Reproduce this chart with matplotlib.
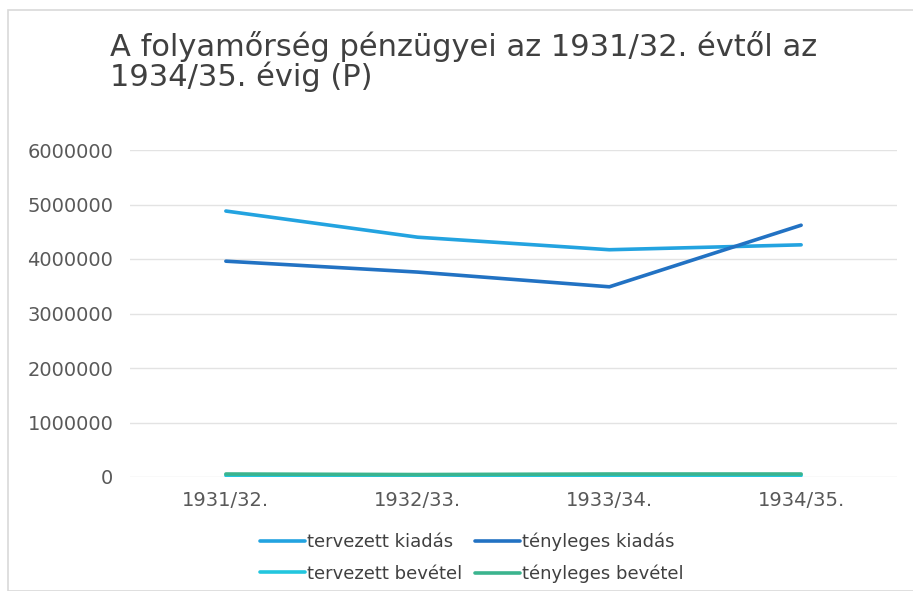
import matplotlib.pyplot as plt
import numpy as np
from matplotlib.patches import Rectangle

plt.rcParams["font.family"] = ["DejaVu Sans"]

years = ["1931/32.", "1932/33.", "1933/34.", "1934/35."]
tervezett_kiadas = [4880000, 4400000, 4170000, 4260000]
tenyleges_kiadas = [3960000, 3760000, 3490000, 4620000]
tervezett_bevetel = [30000, 25000, 30000, 30000]
tenyleges_bevetel = [55000, 45000, 55000, 55000]

series = [
    ("tervezett kiadás", tervezett_kiadas, "#23A3E0"),
    ("tényleges kiadás", tenyleges_kiadas, "#2272C3"),
    ("tervezett bevétel", tervezett_bevetel, "#22C6DE"),
    ("tényleges bevétel", tenyleges_bevetel, "#3BB48E"),
]

fig = plt.figure(figsize=(9.13, 5.91), dpi=100)
ax = fig.add_axes([130 / 913, 1 - 477 / 591, (897 - 130) / 913, (477 - 150) / 591])

x = np.arange(len(years))
lines = []
for label, values, color in series:
    (ln,) = ax.plot(x, values, color=color, lw=2.6, label=label, solid_capstyle="round")
    lines.append(ln)

ax.set_xlim(-0.5, len(years) - 0.5)
ax.set_ylim(0, 6000000)
ax.set_yticks(np.arange(0, 6000001, 1000000))
ax.set_yticklabels([f"{v:d}" for v in range(0, 6000001, 1000000)])
ax.set_xticks(x)
ax.set_xticklabels(years)
ax.tick_params(axis="both", length=0, labelsize=14, colors="#595959")
ax.tick_params(axis="y", pad=12)
ax.tick_params(axis="x", pad=10)
ax.grid(axis="y", color="#E3E3E3", lw=1)
ax.set_axisbelow(True)
for s in ax.spines.values():
    s.set_visible(False)

fig.text(110 / 913, 1 - 31 / 591, "A folyamőrség pénzügyei az 1931/32. évtől az\n1934/35. évig (P)",
         fontsize=22, color="#404040", va="top", ha="left", linespacing=0.98)

# legend is filled row by row in the reference
order = [0, 2, 1, 3]
leg = fig.legend(handles=[lines[i] for i in order], loc="center",
                 bbox_to_anchor=(472 / 913, 1 - 558 / 591),
                 ncol=2, frameon=False, fontsize=13, handlelength=2.5, handletextpad=0.1,
                 columnspacing=0.7, labelspacing=0.75, labelcolor="#404040")

fig.patches.append(Rectangle((8 / 913, 0), 1, 1 - 10 / 591, transform=fig.transFigure,
                             fill=False, edgecolor="#D9D9D9", lw=1.2))

fig.savefig("out.png", dpi=100)
